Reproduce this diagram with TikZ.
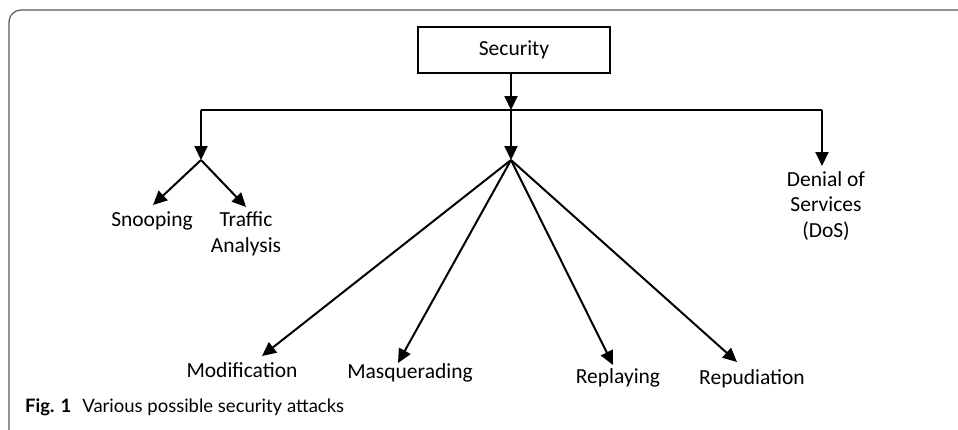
\documentclass[tikz,border=0pt]{standalone}
\usepackage{fontspec}
\setmainfont{Carlito}
\newfontfamily\capfont{Lato}
\usetikzlibrary{arrows.meta}
\begin{document}
\begin{tikzpicture}[x=1pt,y=-1pt,
  lbl/.style={font=\fontsize{21.5}{25.5}\selectfont, align=center, inner sep=0pt, anchor=base},
  arr/.style={line width=2pt, -{Triangle[length=14pt,width=13pt]}},
  ln/.style={line width=2pt},
  frame/.style={draw=black!65, line width=1.2pt, rounded corners=12pt}]
\useasboundingbox (0,0) rectangle (958,429);
\draw[frame] (9,440) -- (9,10) -- (970,10);
% root
\node[draw, line width=2pt, minimum width=192pt, minimum height=46pt, inner sep=0pt,
      font=\fontsize{21.5}{25.5}\selectfont] (sec) at (514,50) {Security};
% junctions
\coordinate (top) at (511,110);
\coordinate (hl) at (201,110);
\coordinate (hr) at (822,110);
\coordinate (jl) at (201,160);
\coordinate (jm) at (511,160);
\coordinate (jr) at (822,166);
% labels
\node[lbl] (snoop) at (152,226) {Snooping};
\node[lbl] (traffic) at (246,252) {Traffic\\Analysis};
\node[lbl] (dos) at (826,237) {Denial of\\Services\\(DoS)};
\node[lbl] (modif) at (242,377) {Modification};
\node[lbl] (masq) at (410,378) {Masquerading};
\node[lbl] (repl) at (618,383) {Replaying};
\node[lbl] (repu) at (752,384) {Repudiation};
% arrow tips
\coordinate (tsnoop) at (153,205);
\coordinate (ttraffic) at (246,207);
\coordinate (tmodif) at (262,356);
\coordinate (tmasq) at (398,363);
\coordinate (trepl) at (613,365);
\coordinate (trepu) at (737,362);
% connectors
\draw[arr] (sec.south -| top) -- (top);
\draw[ln] (hl) -- (hr);
\draw[arr] (hl) -- (jl);
\draw[arr] (top) -- (jm);
\draw[arr] (hr) -- (jr);
\draw[arr] (jl) -- (tsnoop);
\draw[arr] (jl) -- (ttraffic);
\draw[arr] (jm) -- (tmodif);
\draw[arr] (jm) -- (tmasq);
\draw[arr] (jm) -- (trepl);
\draw[arr] (jm) -- (trepu);
% caption
\node[anchor=base west, inner sep=0pt, font=\capfont\fontsize{18.5}{22}\selectfont] (cap) at (25,412)
  {\textbf{Fig. 1}\hspace{0.6em}Various possible security attacks};
\end{tikzpicture}
\end{document}
